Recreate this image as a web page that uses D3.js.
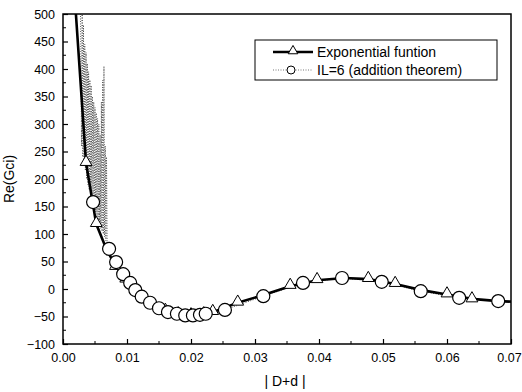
<!DOCTYPE html>
<html>
<head>
<meta charset="utf-8">
<script src="https://cdn.jsdelivr.net/npm/d3@7"></script>
<style>
  body { margin: 0; background: #fff; }
  text { font-family: "Liberation Sans", Arial, sans-serif; fill: #000; }
</style>
</head>
<body>
<script>
const W = 522, H = 392;
const margin = {left: 63, right: 11, top: 14, bottom: 48};

// exponential function: line points and triangle markers
const expLineX = [0.0019, 0.0036, 0.0052, 0.0068, 0.0082, 0.0098, 0.0118, 0.0140, 0.0160, 0.0180, 0.0200, 0.0220, 0.0234, 0.0273, 0.0313, 0.0355, 0.0397, 0.0440, 0.0477, 0.0519, 0.0560, 0.0600, 0.0639, 0.0680, 0.0700];
const expLineY = [520, 229, 118, 72, 42, 18, -6, -28, -40, -46, -48, -46, -42, -25, -11, 5, 16, 20, 18, 9, -2, -10, -18, -22, -23];
const triX = [0.0036, 0.0052, 0.0082, 0.0098, 0.0118, 0.0140, 0.0160, 0.0180, 0.0200, 0.0220, 0.0234, 0.0273, 0.0355, 0.0397, 0.0477, 0.0519, 0.0600, 0.0639];
const triY = [229, 118, 40, 17, -7, -29, -40, -46, -48, -46, -42, -25, 5.5, 16, 18, 9, -10, -19];

// IL=6 (addition theorem): dotted line (oscillating at small |D+d|) and circle markers
const ilLineX = [0.0027, 0.0029, 0.0030, 0.0031, 0.0032, 0.0033, 0.0034, 0.0035, 0.0036, 0.0037, 0.0038, 0.0039, 0.0040, 0.0041, 0.0042, 0.0043, 0.0044, 0.0045, 0.0046, 0.0047, 0.0048, 0.0049, 0.0050, 0.0051, 0.0052, 0.0053, 0.0054, 0.0055, 0.0056, 0.0057, 0.0058, 0.0059, 0.0060, 0.0061, 0.0062, 0.0063, 0.0064, 0.0065, 0.0066, 0.0067, 0.0068, 0.0069, 0.0072, 0.0083, 0.0094, 0.0105, 0.0113, 0.0123, 0.0136, 0.0150, 0.0164, 0.0178, 0.0191, 0.0203, 0.0214, 0.0223, 0.0253, 0.0313, 0.0375, 0.0436, 0.0498, 0.0559, 0.0619, 0.0680, 0.0700];
const ilLineY = [560, 260, 520, 240, 480, 225, 445, 215, 430, 200, 410, 190, 395, 180, 380, 170, 370, 165, 350, 158, 340, 150, 330, 140, 320, 130, 310, 125, 300, 118, 280, 110, 340, 105, 380, 100, 405, 95, 260, 88, 240, 80, 73, 49, 27, 11, -2, -14, -25, -35, -42, -45, -48, -48, -47, -45, -38, -13, 11, 20, 13, -4, -16, -22, -23];
const circX = [0.0047, 0.0072, 0.0083, 0.0094, 0.0105, 0.0113, 0.0123, 0.0136, 0.0150, 0.0164, 0.0178, 0.0191, 0.0203, 0.0214, 0.0223, 0.0253, 0.0313, 0.0375, 0.0436, 0.0498, 0.0559, 0.0619, 0.0680];
const circY = [158, 73, 49, 27, 11, -2, -14, -25, -35, -42, -45, -48, -48, -47, -45, -38, -13, 11, 20, 13, -4, -16, -22];

const xTicks = [0, 0.01, 0.02, 0.03, 0.04, 0.05, 0.06, 0.07];
const yTicks = [-100, -50, 0, 50, 100, 150, 200, 250, 300, 350, 400, 450, 500];
const seriesNames = ["Exponential funtion", "IL=6 (addition theorem)"];

const svg = d3.select('body').append('svg')
    .attr('width', W).attr('height', H);

const x = d3.scaleLinear().domain([0, 0.07]).range([margin.left, W - margin.right]);
const y = d3.scaleLinear().domain([-100, 500]).range([H - margin.bottom, margin.top]);

svg.append('clipPath').attr('id', 'plot')
  .append('rect')
    .attr('x', x(0)).attr('y', y(500))
    .attr('width', x(0.07) - x(0)).attr('height', y(-100) - y(500));

const plot = svg.append('g').attr('clip-path', 'url(#plot)');

const line = d3.line().x(d => x(d[0])).y(d => y(d[1]));

// dotted IL=6 line
plot.append('path')
    .datum(d3.zip(ilLineX, ilLineY))
    .attr('d', line)
    .attr('fill', 'none')
    .attr('stroke', '#555')
    .attr('stroke-width', 1)
    .attr('stroke-dasharray', '1,1.5');

// thick exponential line
plot.append('path')
    .datum(d3.zip(expLineX, expLineY))
    .attr('d', line)
    .attr('fill', 'none')
    .attr('stroke', '#000')
    .attr('stroke-width', 2.6);

const tri = d3.symbol().type(d3.symbolTriangle).size(60);

plot.selectAll('path.tri')
  .data(d3.zip(triX, triY))
  .enter().append('path')
    .attr('class', 'tri')
    .attr('d', tri)
    .attr('transform', d => `translate(${x(d[0])},${y(d[1]) - 1})`)
    .attr('fill', '#fff')
    .attr('stroke', '#000')
    .attr('stroke-width', 1);

plot.selectAll('circle')
  .data(d3.zip(circX, circY))
  .enter().append('circle')
    .attr('cx', d => x(d[0]))
    .attr('cy', d => y(d[1]))
    .attr('r', 6.5)
    .attr('fill', '#fff')
    .attr('stroke', '#000')
    .attr('stroke-width', 1.2);

// axes
const xAxis = d3.axisBottom(x).tickValues(xTicks).tickFormat(d3.format('.2f'))
    .tickSizeInner(-5).tickSizeOuter(0).tickPadding(9);
const yAxis = d3.axisLeft(y).tickValues(yTicks).tickFormat(d3.format('d'))
    .tickSizeInner(-5).tickSizeOuter(0).tickPadding(8);

const gx = svg.append('g').attr('transform', `translate(0,${y(-100)})`).call(xAxis);
const gy = svg.append('g').attr('transform', `translate(${x(0)},0)`).call(yAxis);

// minor ticks
const xMinor = d3.range(0.005, 0.07, 0.01);
gx.selectAll('line.minor').data(xMinor).enter().append('line')
    .attr('x1', d => x(d)).attr('x2', d => x(d))
    .attr('y1', 0).attr('y2', -3).attr('stroke', '#000');
const yMinor = d3.range(-75, 500, 50);
gy.selectAll('line.minor').data(yMinor).enter().append('line')
    .attr('y1', d => y(d)).attr('y2', d => y(d))
    .attr('x1', 0).attr('x2', 3).attr('stroke', '#000');

[gx, gy].forEach(g => {
  g.select('.domain').remove();
  g.selectAll('text').style('font-size', '12.5px').style('font-family', '"Liberation Sans", Arial, sans-serif');
  g.selectAll('.tick line').attr('stroke-width', 1.2);
});
gx.selectAll('.tick text').filter(d => d === 0.07).attr('dx', '-2px');

// frame
svg.append('rect')
    .attr('x', x(0)).attr('y', y(500))
    .attr('width', x(0.07) - x(0)).attr('height', y(-100) - y(500))
    .attr('fill', 'none').attr('stroke', '#000').attr('stroke-width', 1.5);

// axis titles
svg.append('text')
    .attr('transform', `translate(14,${(y(500) + y(-100)) / 2}) rotate(-90)`)
    .attr('text-anchor', 'middle')
    .style('font-size', '14px')
    .text('Re(Gci)');
svg.append('text')
    .attr('x', (x(0) + x(0.07)) / 2 - 2).attr('y', 386)
    .attr('text-anchor', 'middle')
    .style('font-size', '14px')
    .text('| D+d |');

// legend
const leg = svg.append('g').attr('transform', 'translate(255,40)');
leg.append('rect').attr('width', 242).attr('height', 40)
    .attr('fill', '#fff').attr('stroke', '#000').attr('stroke-width', 1);
leg.append('line').attr('x1', 18).attr('x2', 58).attr('y1', 12).attr('y2', 12)
    .attr('stroke', '#000').attr('stroke-width', 2.6);
leg.append('path').attr('d', d3.symbol().type(d3.symbolTriangle).size(40))
    .attr('transform', 'translate(38,11)').attr('fill', '#fff').attr('stroke', '#000');
leg.append('line').attr('x1', 18).attr('x2', 58).attr('y1', 30).attr('y2', 30)
    .attr('stroke', '#777').attr('stroke-dasharray', '1,1.5');
leg.append('circle').attr('cx', 36).attr('cy', 30).attr('r', 4)
    .attr('fill', '#fff').attr('stroke', '#000');
leg.selectAll('text.lbl').data(seriesNames).enter().append('text')
    .attr('class', 'lbl')
    .attr('x', 62).attr('y', (d, i) => 17 + i * 18)
    .style('font-size', '14px')
    .text(d => d);
</script>
</body>
</html>
